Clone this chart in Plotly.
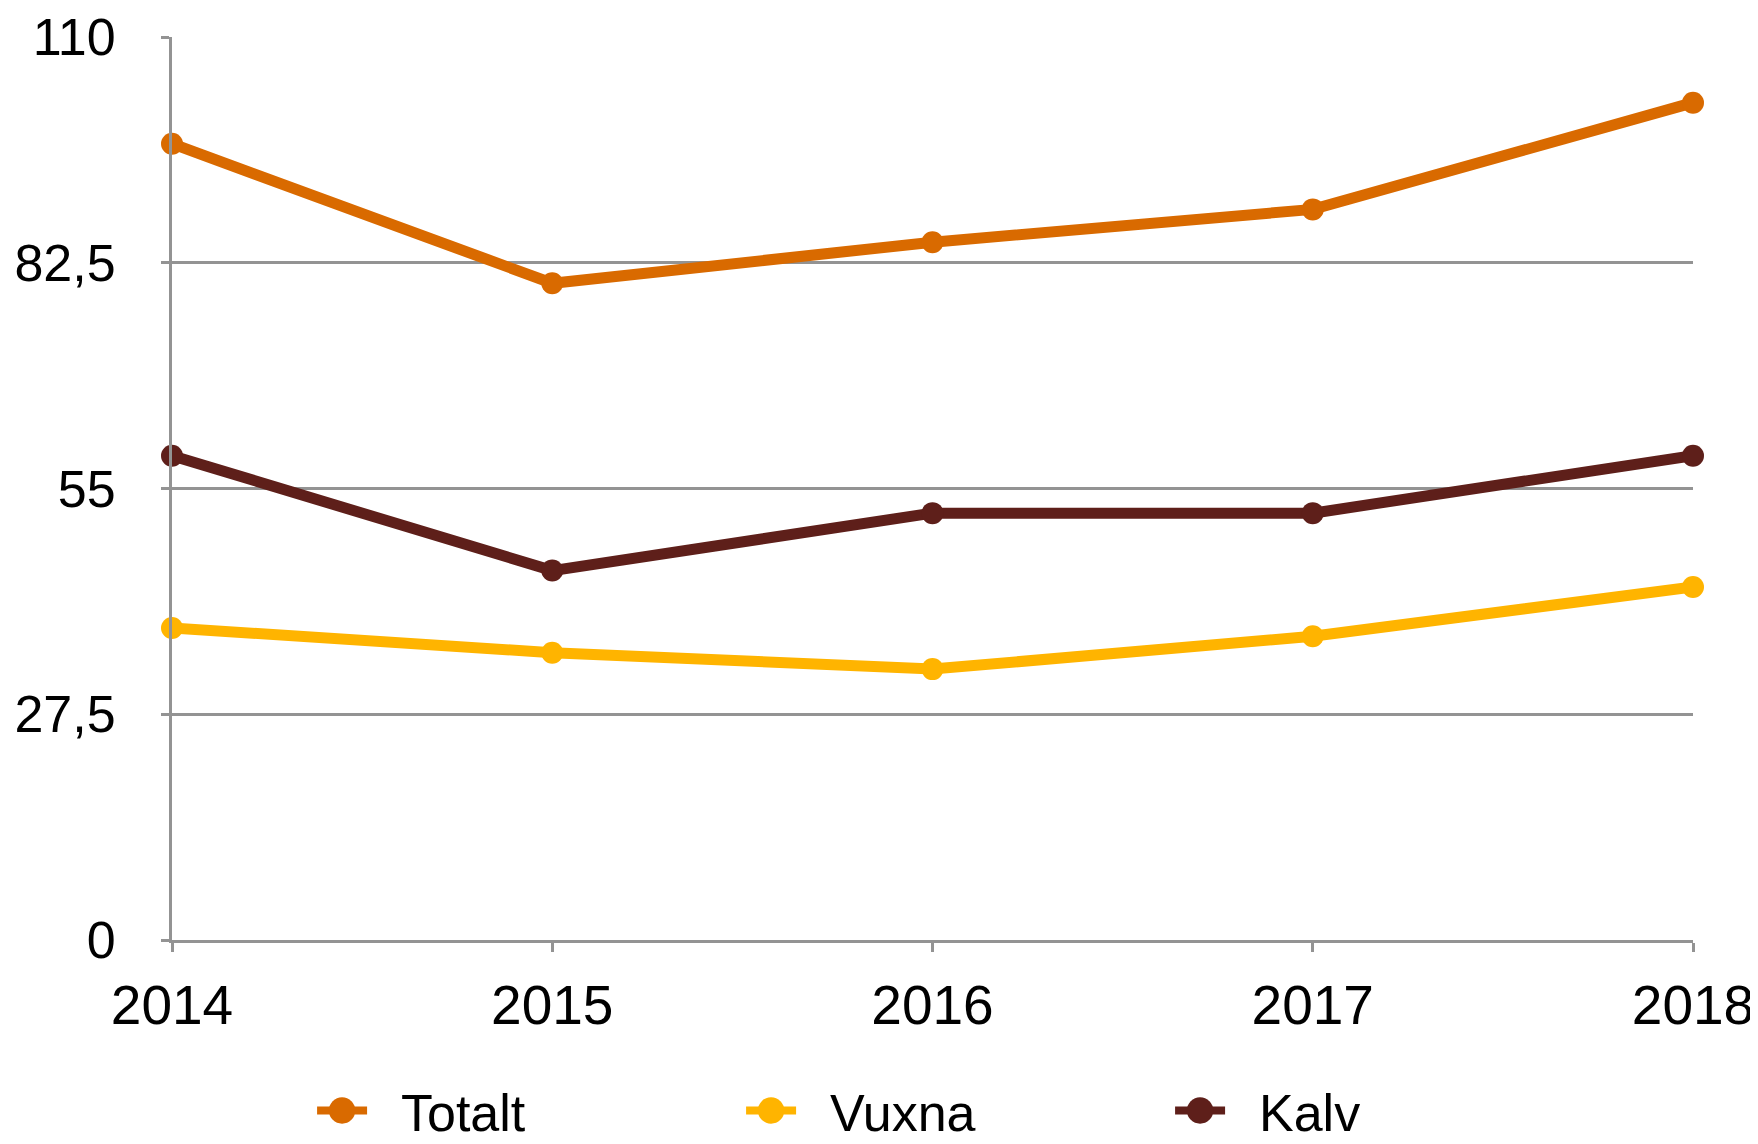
import plotly.graph_objects as go

years = [2014, 2015, 2016, 2017, 2018]
totalt = [97, 80, 85, 89, 102]
vuxna = [38, 35, 33, 37, 43]
kalv = [59, 45, 52, 52, 59]

series_names = ["Totalt", "Vuxna", "Kalv"]
series_colors = ["#D96A00", "#FFB400", "#5E1F1A"]

y_tickvals = [0, 27.5, 55, 82.5, 110]
y_ticktext = ["0", "27,5", "55", "82,5", "110"]
x_ticktext = ["2014", "2015", "2016", "2017", "2018"]

FONT = "Liberation Sans, Arial, sans-serif"
GRID = "#939393"
PAD = "\u00a0\u00a0"

fig = go.Figure()
for name, vals, col in zip(series_names, [totalt, vuxna, kalv], series_colors):
    fig.add_trace(go.Scatter(
        x=years, y=vals, name=PAD + name, mode="lines+markers",
        line=dict(color=col, width=11),
        marker=dict(color=col, size=22),
        cliponaxis=False,
    ))

fig.update_layout(
    width=1750, height=1136,
    margin=dict(l=164, r=65, t=29, b=204, autoexpand=False),
    paper_bgcolor="white", plot_bgcolor="white",
    font=dict(family=FONT, color="black", size=50),
    separators=", ",
    showlegend=True,
    legend=dict(
        orientation="h", x=0.0921, xanchor="left", y=-0.189, yanchor="middle",
        font=dict(size=52, family=FONT), itemwidth=50,
        entrywidth=364, entrywidthmode="pixels",
        bgcolor="rgba(0,0,0,0)",
    ),
    xaxis=dict(
        range=[2014, 2018], tickvals=years, ticktext=x_ticktext,
        showgrid=False, zeroline=False, showline=True, linecolor=GRID, linewidth=3,
        ticks="outside", ticklen=9, tickwidth=3, tickcolor=GRID,
        tickfont=dict(size=55, family=FONT), ticklabelstandoff=6,
    ),
    yaxis=dict(
        range=[0, 110], tickvals=y_tickvals, ticktext=y_ticktext,
        showgrid=True, gridcolor=GRID, gridwidth=3,
        zeroline=False, showline=True, linecolor=GRID, linewidth=3,
        ticks="outside", ticklen=8, tickwidth=3, tickcolor=GRID,
        tickfont=dict(size=52, family=FONT), ticklabelstandoff=35,
    ),
)

post = """
(function(){
  var gd = document.getElementById('{plot_id}');
  function fix(){
    gd.querySelectorAll('.legend .legendpoints path.scatterpts').forEach(function(p){
      var t = p.getAttribute('transform') || '';
      if (t.indexOf('scale') < 0) p.setAttribute('transform', t + ' scale(1.65)');
    });
    gd.querySelectorAll('.legend .legendlines path').forEach(function(p){
      p.style.strokeWidth = '8px';
    });
  }
  fix();
  if (gd.on) gd.on('plotly_afterplot', fix);
})();
"""

fig.write_html("out.html", post_script=post)
